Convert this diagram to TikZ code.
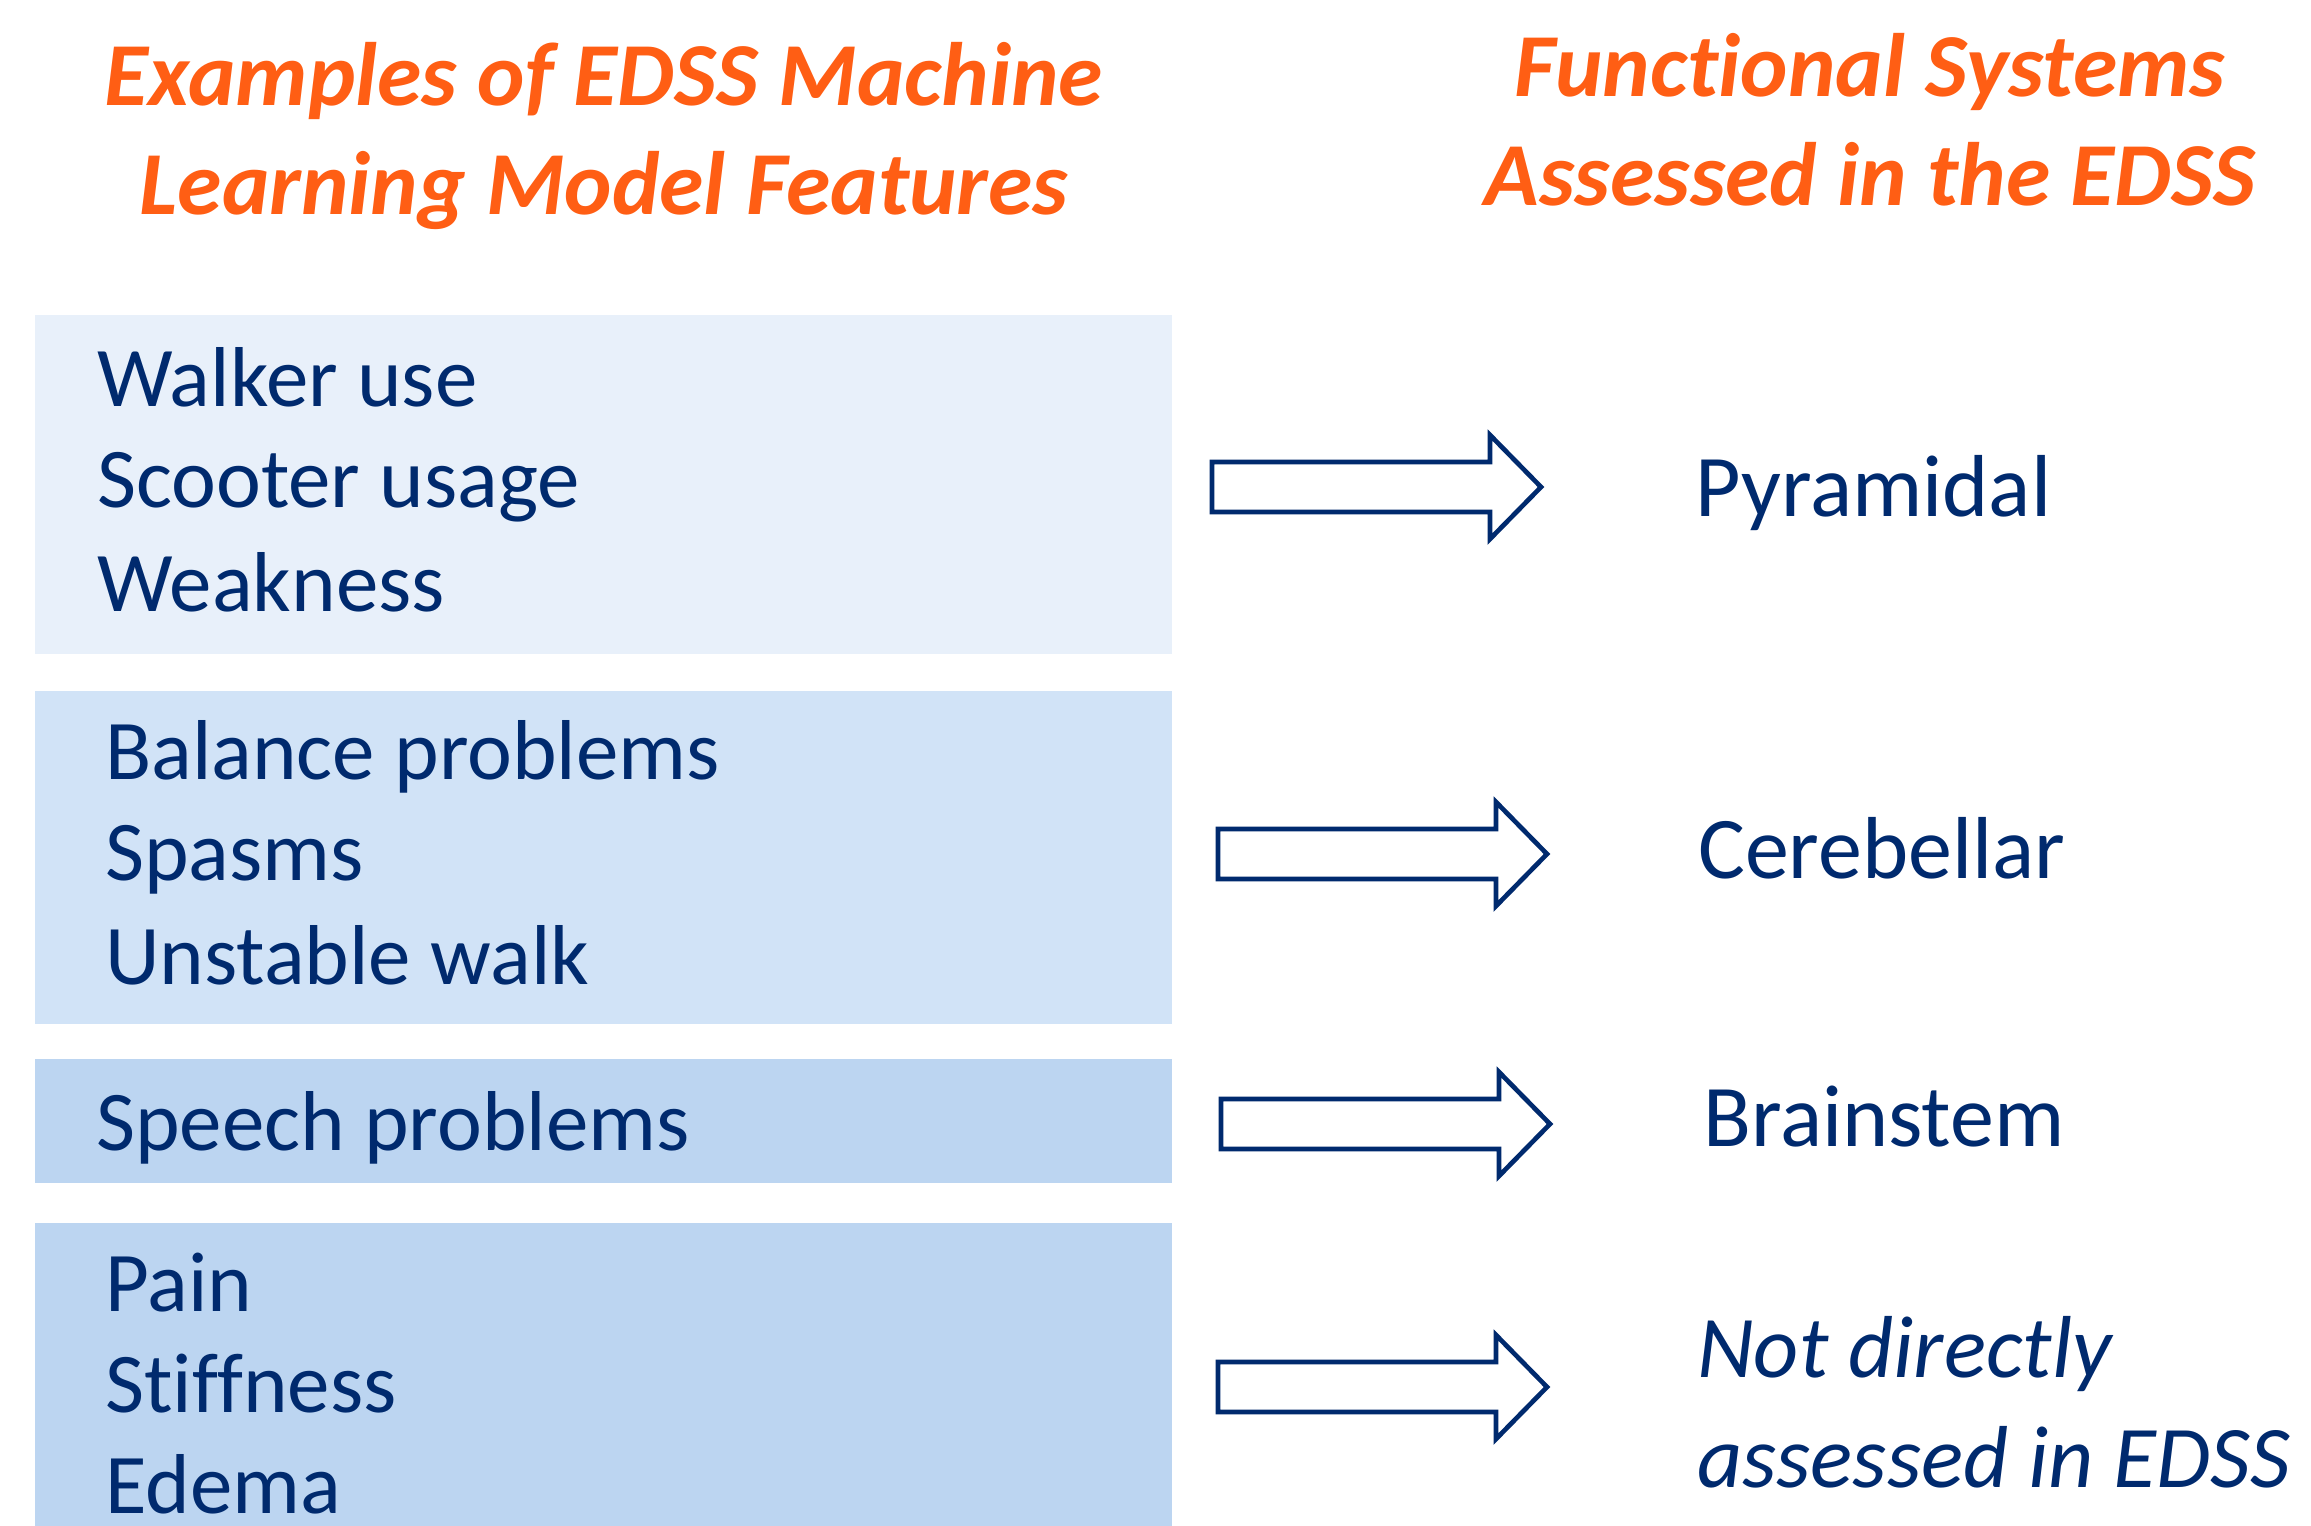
\documentclass[tikz,border=0pt]{standalone}
\usepackage{fontspec}
\setmainfont[Ligatures={NoCommon,NoRequired,NoContextual},Contextuals=NoAlternate]{Carlito}
\definecolor{orangeT}{HTML}{FF5E14}
\definecolor{navy}{HTML}{002A6E}
\definecolor{fillA}{HTML}{E8F0FA}
\definecolor{fillB}{HTML}{D1E3F7}
\definecolor{fillC}{HTML}{BCD5F1}
\newcommand\bodyfont{\fontsize{85}{102}\selectfont}
\newcommand\labfont{\fontsize{88}{108}\selectfont}
\newcommand\titfont{\fontsize{90}{109}\selectfont\bfseries\itshape}
\tikzset{
  feat/.style={anchor=base west, text=navy, font=\bodyfont, inner sep=0pt},
  lab/.style={anchor=base west, text=navy, font=\labfont, inner sep=0pt},
  labit/.style={anchor=base west, text=navy, font=\labfont\itshape, inner sep=0pt},
  tit/.style={anchor=base, text=orangeT, font=\titfont, inner sep=0pt},
  barrowstyle/.style={draw=navy, line width=4.7pt, fill=white, line join=miter},
}
\newcommand\blockarrow[3]{% name, x left, y centre
  \coordinate (#1) at (#2,#3);
  \draw[barrowstyle] (#2,#3-25) -- (#2+278,#3-25) -- (#2+278,#3-52) -- (#2+329,#3)
    -- (#2+278,#3+52) -- (#2+278,#3+25) -- (#2,#3+25) -- cycle;}
\begin{document}
\begin{tikzpicture}[x=1pt,y=-1pt]
\useasboundingbox (0,0) rectangle (2311,1526);
\fill[white] (0,0) rectangle (2311,1526);
% boxes
\fill[fillA] (35,315) rectangle (1172,654);
\fill[fillB] (35,691) rectangle (1172,1024);
\fill[fillC] (35,1059) rectangle (1172,1183);
\fill[fillC] (35,1223) rectangle (1172,1526);
% titles
\node[tit] (t1a) at (604,105) {Examples of EDSS Machine};
\node[tit] (t1b) at (604,214) {Learning Model Features};
\node[tit] (t2a) at (1870,96) {Funct\kern0pt ional Systems};
\node[tit] (t2b) at (1870,205) {Assessed in the EDSS};
% features
\node[feat] (f1) at (97,406) {Walker use};
\node[feat] (f2) at (97,507) {Scooter usage};
\node[feat] (f3) at (97,611) {Weakness};
\node[feat] (f4) at (105,779) {Balance problems};
\node[feat] (f5) at (105,880) {Spasms};
\node[feat] (f6) at (105,984) {Unstable walk};
\node[feat] (f7) at (96,1150) {Speech problems};
\node[feat] (f8) at (105,1311) {Pain};
\node[feat] (f9) at (105,1412) {Stiffness};
\node[feat] (f10) at (105,1513) {Edema};
% arrows
\blockarrow{a1}{1212}{487}
\blockarrow{a2}{1218}{854}
\blockarrow{a3}{1221}{1124}
\blockarrow{a4}{1218}{1387}
% labels
\node[lab] (l1) at (1695,516) {Pyramidal};
\node[lab] (l2) at (1698,878) {Cerebellar};
\node[lab] (l3) at (1703,1146) {Brainstem};
\node[labit] (l4a) at (1697,1377) {Not directly};
\node[labit] (l4b) at (1697,1487) {assessed in EDSS};
\end{tikzpicture}
\end{document}
